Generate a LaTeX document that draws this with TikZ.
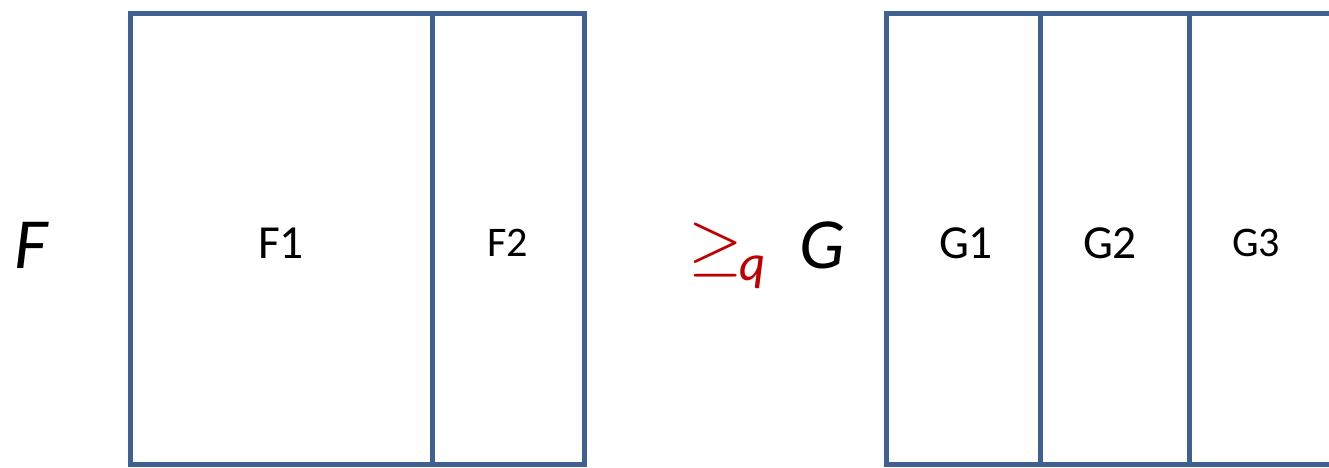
\documentclass[tikz,border=0pt]{standalone}
\usepackage{fontspec}
\setmainfont{Carlito}
\usepackage{tikz}
\usetikzlibrary{positioning}

\definecolor{framecol}{RGB}{62,96,146}
\definecolor{relred}{RGB}{192,0,0}

\begin{document}
\begin{tikzpicture}[x=0.02cm, y=-0.02cm, line join=miter,
  frame/.style={draw=framecol, line width=0.1cm},
  part/.style={font=\fontsize{27}{30}\selectfont, inner sep=0pt},
  small part/.style={font=\fontsize{24}{27}\selectfont, inner sep=0pt},
  setname/.style={font=\fontsize{41}{44}\selectfont\itshape, inner sep=0pt}]
\useasboundingbox (0,0) rectangle (1329,467);
% left partition F
\draw[frame] (130,13) rectangle (584,464);
\draw[frame] (432,13) -- (432,464);
% right partition G (runs off the right edge)
\draw[frame] (1335,13) -- (886,13) -- (886,464) -- (1335,464);
\draw[frame] (1040,13) -- (1040,464);
\draw[frame] (1189,13) -- (1189,464);
% labels
\node[setname] (fname) at (31,245) {F};
\node[part] (f1) at (281,243) {F1};
\node[small part] (f2) at (508,243) {F2};
\node[inner sep=0pt, text=relred, font=\fontsize{24}{27}\selectfont] (rel) at (716,250) {\scalebox{1.6}{$\geq$}};
\node[inner sep=0pt, text=relred, font=\fontsize{29}{32}\selectfont\itshape] (relq) at (753,272) {q};
\node[setname] (gname) at (822,245) {G};
\node[part] (g1) at (966,243) {G1};
\node[part] (g2) at (1110,243) {G2};
\node[small part] (g3) at (1256,243) {G3};
\end{tikzpicture}
\end{document}
